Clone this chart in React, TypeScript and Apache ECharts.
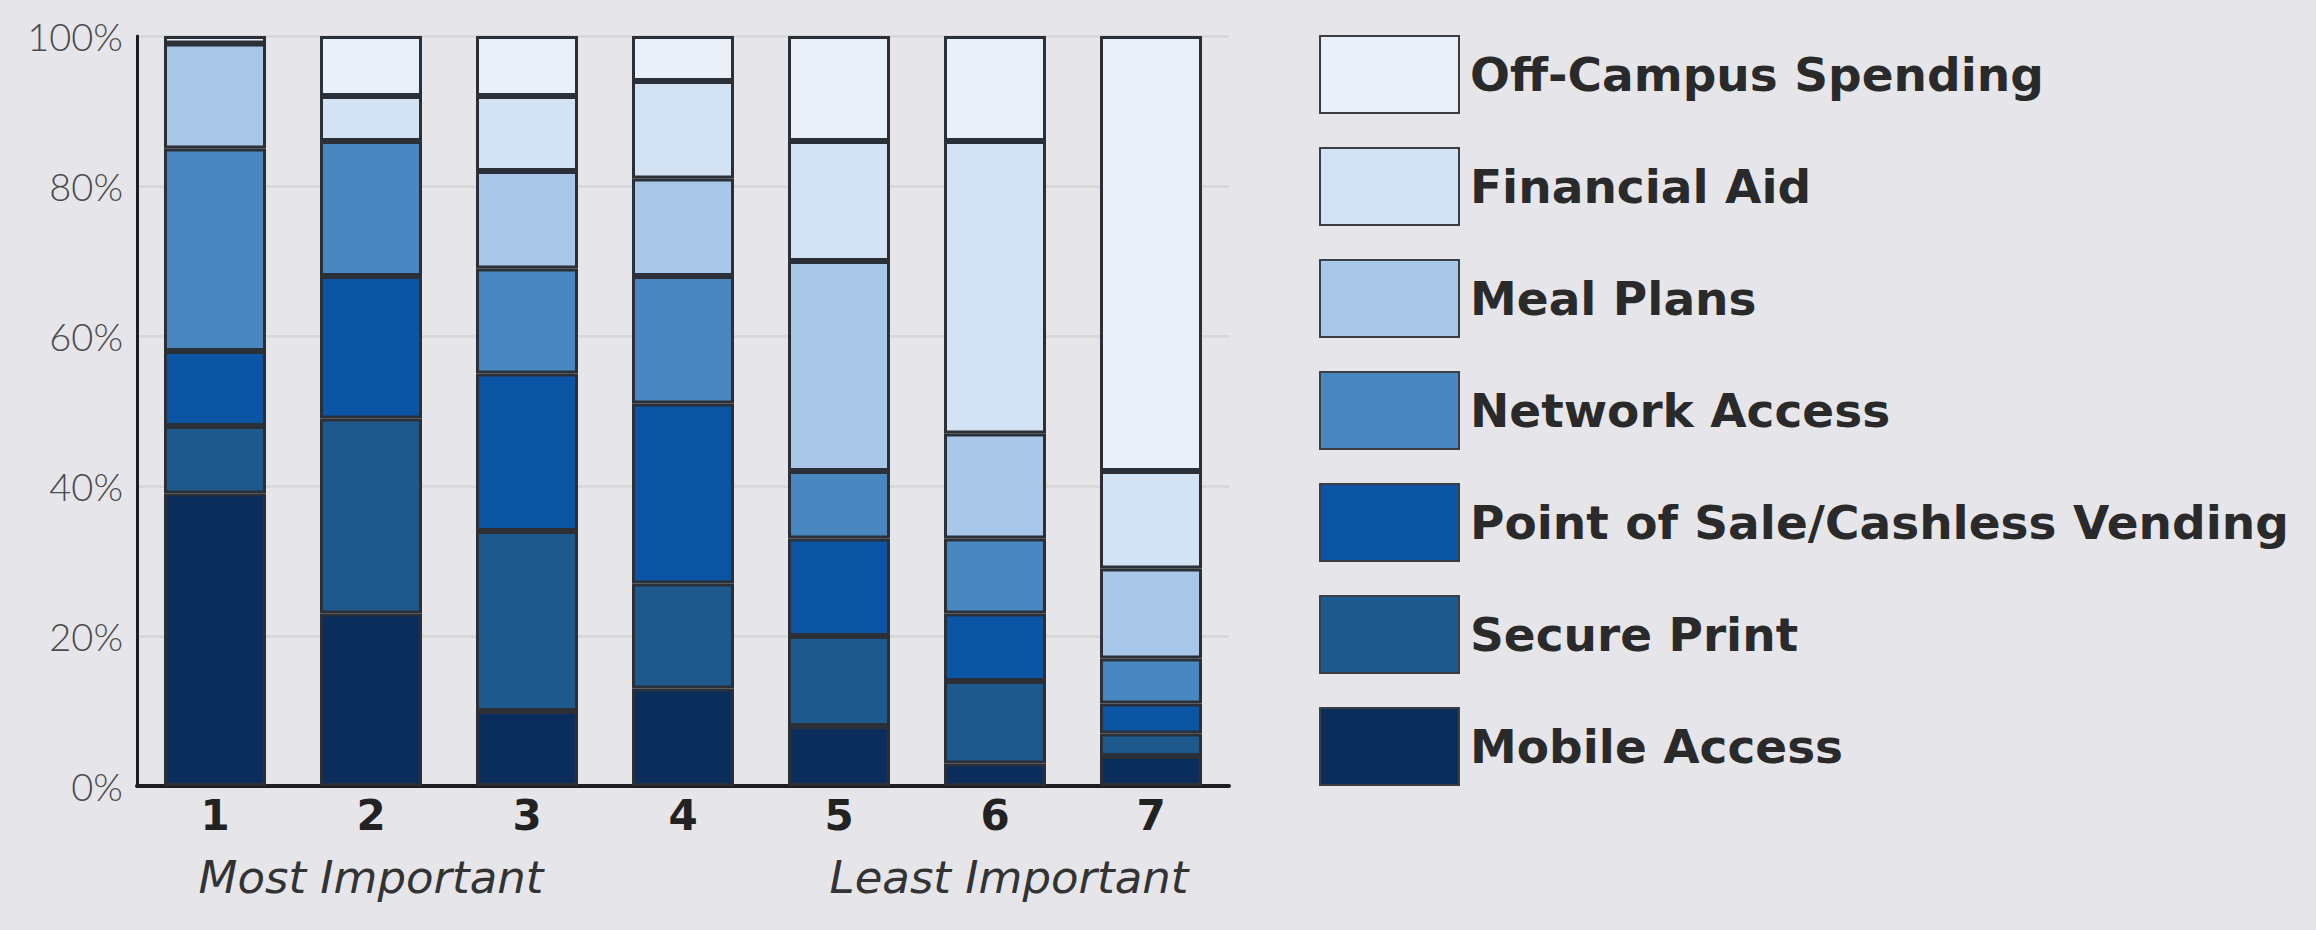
import React, { useEffect, useRef } from "react";
import * as echarts from "echarts";

const categories = ["1", "2", "3", "4", "5", "6", "7"];
const seriesNames = [
  "Off-Campus Spending",
  "Financial Aid",
  "Meal Plans",
  "Network Access",
  "Point of Sale/Cashless Vending",
  "Secure Print",
  "Mobile Access",
];
const offCampus = [1, 8, 8, 6, 14, 14, 58];
const financialAid = [0, 6, 10, 13, 16, 39, 13];
const mealPlans = [14, 0, 13, 13, 28, 14, 12];
const networkAccess = [27, 18, 14, 17, 9, 10, 6];
const pointOfSale = [10, 19, 21, 24, 13, 9, 4];
const securePrint = [9, 26, 24, 14, 12, 11, 3];
const mobileAccess = [39, 23, 10, 13, 8, 3, 4];
const yTicks = [0, 20, 40, 60, 80, 100];

const colors: Record<string, string> = {
  "Off-Campus Spending": "#ebf0f8",
  "Financial Aid": "#d4e3f3",
  "Meal Plans": "#a9c7e8",
  "Network Access": "#4a86c0",
  "Point of Sale/Cashless Vending": "#0b55a4",
  "Secure Print": "#1e5a8d",
  "Mobile Access": "#0b2d5c",
};

export default function App() {
  const ref = useRef<HTMLDivElement>(null);
  useEffect(() => {
    if (!ref.current) return;
    const chart = echarts.init(ref.current, null, { renderer: "svg" });
    const stackOrder: [string, number[]][] = [
      ["Mobile Access", mobileAccess],
      ["Secure Print", securePrint],
      ["Point of Sale/Cashless Vending", pointOfSale],
      ["Network Access", networkAccess],
      ["Meal Plans", mealPlans],
      ["Financial Aid", financialAid],
      ["Off-Campus Spending", offCampus],
    ];
    chart.setOption({
      animation: false,
      backgroundColor: "#e6e6ea",
      grid: { left: 137, top: 36, width: 1092, height: 750 },
      legend: {
        orient: "vertical",
        left: 1314,
        top: 30,
        itemWidth: 139,
        itemHeight: 77,
        itemGap: 33,
        icon: "rect",
        selectedMode: false,
        data: seriesNames,
        itemStyle: { borderColor: "#3a3f47", borderWidth: 2 },
        textStyle: {
          fontFamily: "DejaVu Sans",
          fontWeight: "bold",
          fontSize: 47,
          color: "#2a2a2a",
          padding: [0, 0, 0, 6],
        },
      },
      xAxis: {
        type: "category",
        data: categories,
        axisLine: { show: true, lineStyle: { color: "#1e1e1e", width: 4 } },
        axisTick: { show: false },
        axisLabel: {
          margin: 8,
          fontFamily: "DejaVu Sans",
          fontWeight: "bold",
          fontSize: 42,
          color: "#222",
        },
      },
      yAxis: {
        type: "value",
        min: 0,
        max: 100,
        interval: 20,
        axisLine: { show: true, lineStyle: { color: "#1e1e1e", width: 3 } },
        axisTick: { show: false },
        splitLine: { show: true, lineStyle: { color: "#d8d8d8", width: 3 } },
        axisLabel: {
          formatter: (v: number) => (yTicks.includes(v) ? v + "%" : ""),
          margin: 14,
          fontFamily: "Lato",
          fontWeight: 300,
          fontSize: 38,
          color: "#4a4a4a",
          verticalAlign: "middle",
          padding: [14, 0, 0, 0],
        },
      },
      series: stackOrder.map(([name, values]) => ({
        name,
        type: "bar",
        stack: "total",
        barWidth: 102,
        data: values,
        itemStyle: {
          color: colors[name],
          borderColor: "#2b3038",
          borderWidth: 3,
        },
      })),
      graphic: [
        {
          type: "text",
          x: 371,
          y: 877,
          style: {
            text: "Most Important",
            fontFamily: "DejaVu Sans",
            fontStyle: "italic",
            fontSize: 45,
            fill: "#333",
            align: "center",
            verticalAlign: "middle",
          },
        },
        {
          type: "text",
          x: 1009,
          y: 877,
          style: {
            text: "Least Important",
            fontFamily: "DejaVu Sans",
            fontStyle: "italic",
            fontSize: 45,
            fill: "#333",
            align: "center",
            verticalAlign: "middle",
          },
        },
      ],
    });
    return () => chart.dispose();
  }, []);
  return (
    <div
      ref={ref}
      style={{ position: "fixed", left: 0, top: 0, width: 2316, height: 930 }}
    />
  );
}
